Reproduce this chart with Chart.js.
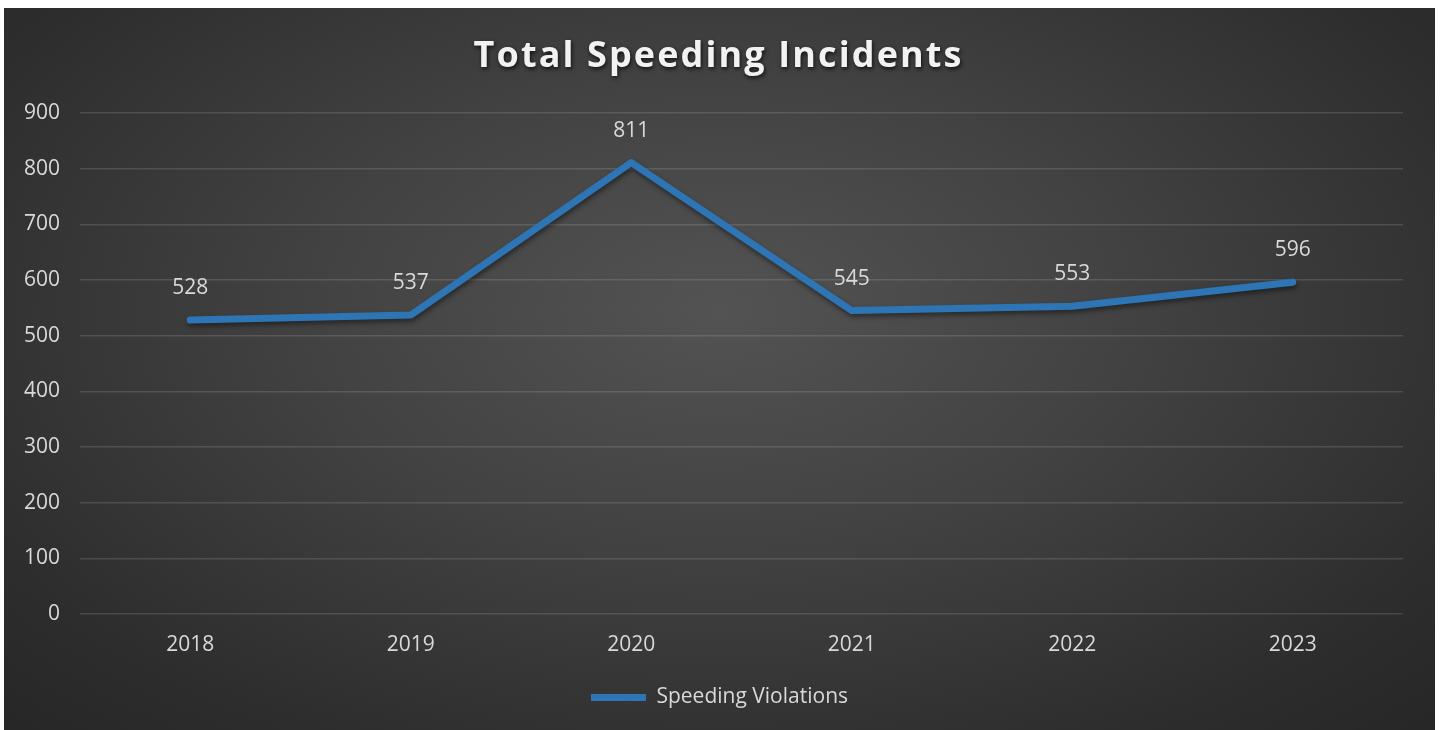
<!DOCTYPE html>
<html>
<head>
<meta charset="utf-8">
<script src="https://cdn.jsdelivr.net/npm/chart.js@4"></script>
<style>
  html, body { margin: 0; padding: 0; background: #ffffff; }
  #wrap {
    position: absolute;
    left: 4px; top: 8px;
    width: 1431px; height: 722px;
    background: radial-gradient(ellipse 75% 85% at 50% 42%, #535353 0%, #424242 38%, #2d2d2d 78%, #252525 100%);
  }
  canvas { display: block; }
</style>
</head>
<body>
<div id="wrap"><canvas id="chart"></canvas></div>
<script>
const years = ['2018', '2019', '2020', '2021', '2022', '2023'];
const violations = [528, 537, 811, 545, 553, 596];
const yTicks = [0, 100, 200, 300, 400, 500, 600, 700, 800, 900];

const FONT = '"Open Sans", sans-serif';
const TEXT = '#d9d9d9';
const SIZE = 21;

// --- title with letter spacing and soft shadow ---
const titlePlugin = {
    id: 'fancyTitle',
    afterDraw(chart) {
        const ctx = chart.ctx;
        const text = 'Total Speeding Incidents';
        ctx.save();
        ctx.font = 'bold 36px ' + FONT;
        // spread letters so the title spans about 490px like the original
        const plain = ctx.measureText(text).width;
        const spacing = Math.max(0, (490 - plain) / text.length);
        ctx.letterSpacing = spacing + 'px';
        ctx.fillStyle = '#f2f2f2';
        ctx.textAlign = 'center';
        ctx.textBaseline = 'middle';
        ctx.shadowColor = 'rgba(0,0,0,0.75)';
        ctx.shadowBlur = 4;
        ctx.shadowOffsetX = 1;
        ctx.shadowOffsetY = 2;
        ctx.fillText(text, chart.width / 2 - 2 + spacing / 2, 49);
        ctx.restore();
    }
};

// --- shadow under the line ---
const lineShadow = {
    id: 'lineShadow',
    beforeDatasetDraw(chart) {
        const ctx = chart.ctx;
        ctx.save();
        ctx.shadowColor = 'rgba(0,0,0,0.45)';
        ctx.shadowBlur = 5;
        ctx.shadowOffsetX = 1;
        ctx.shadowOffsetY = 3;
    },
    afterDatasetDraw(chart) {
        chart.ctx.restore();
    }
};

// --- value labels above each point ---
const valueLabels = {
    id: 'valueLabels',
    afterDatasetsDraw(chart) {
        const ctx = chart.ctx;
        ctx.save();
        ctx.font = SIZE + 'px ' + FONT;
        ctx.fillStyle = TEXT;
        ctx.textAlign = 'center';
        ctx.textBaseline = 'middle';
        chart.data.datasets.forEach((ds, i) => {
            const meta = chart.getDatasetMeta(i);
            meta.data.forEach((pt, j) => {
                ctx.fillText(String(ds.data[j]), pt.x, pt.y - 32);
            });
        });
        ctx.restore();
    }
};

const ctx = document.getElementById('chart').getContext('2d');
new Chart(ctx, {
    type: 'line',
    data: {
        labels: years,
        datasets: [{
            label: 'Speeding Violations',
            data: violations,
            borderColor: '#2e75b6',
            backgroundColor: '#2e75b6',
            borderWidth: 7,
            borderCapStyle: 'round',
            borderJoinStyle: 'round',
            pointRadius: 0,
            pointHoverRadius: 0,
            tension: 0,
            fill: false
        }]
    },
    options: {
        responsive: true,
        maintainAspectRatio: false,
        animation: false,
        layout: { padding: { top: 105, left: 0, right: 0, bottom: 12 } },
        plugins: {
            title: { display: false },
            tooltip: { enabled: false },
            legend: {
                display: true,
                position: 'bottom',
                labels: {
                    color: TEXT,
                    font: { family: FONT, size: SIZE },
                    boxWidth: 55,
                    boxHeight: 7,
                    padding: 10,
                    useBorderRadius: true,
                    borderRadius: 3.5,
                    generateLabels(chart) {
                        return chart.data.datasets.map((ds, i) => ({
                            text: ds.label,
                            fillStyle: ds.borderColor,
                            strokeStyle: ds.borderColor,
                            lineWidth: 0,
                            fontColor: TEXT,
                            datasetIndex: i
                        }));
                    }
                }
            }
        },
        scales: {
            x: {
                offset: true,
                grid: { display: false, drawTicks: false },
                border: { display: false },
                ticks: { color: TEXT, font: { family: FONT, size: SIZE }, padding: 18 },
                afterFit(scale) { scale.height = 63; }
            },
            y: {
                min: 0,
                max: 900,
                afterBuildTicks(scale) { scale.ticks = yTicks.map(v => ({ value: v })); },
                grid: { color: 'rgba(255,255,255,0.13)', lineWidth: 1.5, drawTicks: false },
                border: { display: false },
                ticks: { color: TEXT, font: { family: FONT, size: SIZE }, padding: 20 },
                afterFit(scale) { scale.width = 76; }
            },
            // empty right-hand axis that only reserves the right margin
            yRight: {
                position: 'right',
                grid: { display: false, drawTicks: false },
                border: { display: false },
                ticks: { display: false },
                afterFit(scale) { scale.width = 32; }
            }
        }
    },
    plugins: [titlePlugin, lineShadow, valueLabels]
});
</script>
</body>
</html>
